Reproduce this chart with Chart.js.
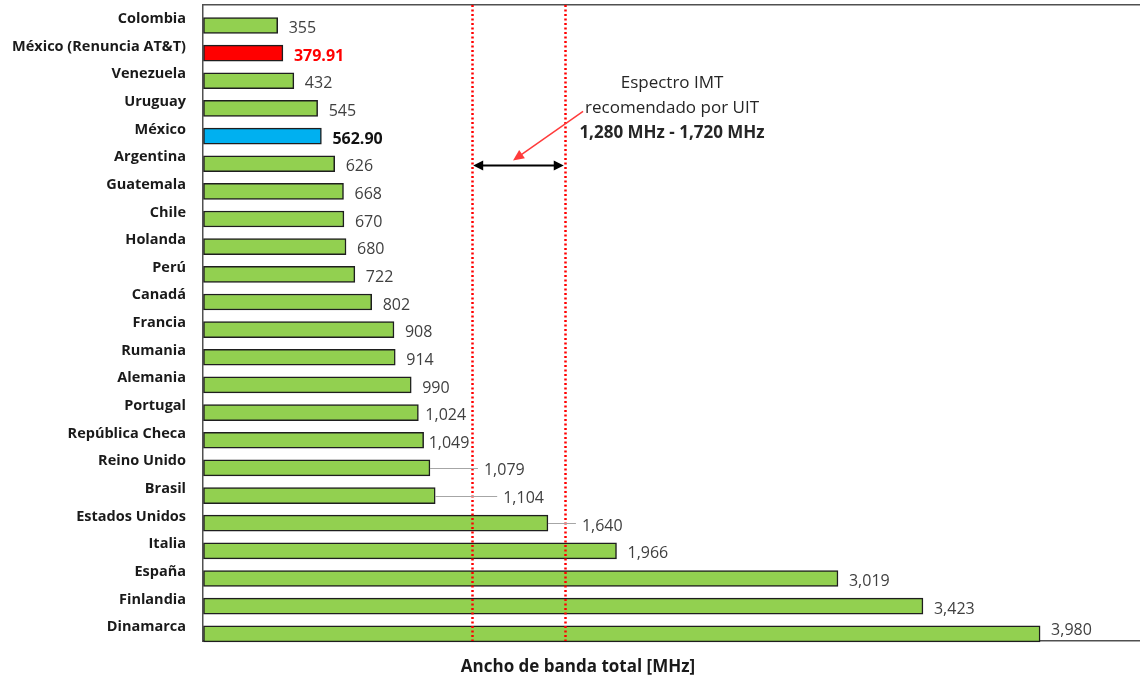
<!DOCTYPE html>
<html>
<head>
<meta charset="utf-8">
<script src="https://cdn.jsdelivr.net/npm/chart.js@4.4.1/dist/chart.umd.min.js"></script>
<style>
  html, body { margin: 0; padding: 0; background: #fff; }
</style>
</head>
<body>
<canvas id="chart" width="1140" height="679"></canvas>
<script>
// datos
const countries = ["Colombia", "México (Renuncia AT&T)", "Venezuela", "Uruguay", "México", "Argentina",
  "Guatemala", "Chile", "Holanda", "Perú", "Canadá", "Francia", "Rumania", "Alemania", "Portugal",
  "República Checa", "Reino Unido", "Brasil", "Estados Unidos", "Italia", "España", "Finlandia", "Dinamarca"];
const bandwidth = [355, 379.91, 432, 545, 562.90, 626, 668, 670, 680, 722, 802, 908, 914, 990, 1024,
  1049, 1079, 1104, 1640, 1966, 3019, 3423, 3980];
const imtRange = [1280, 1720];
const noteLines = ["Espectro IMT", "recomendado por UIT", "1,280 MHz - 1,720 MHz"];
const xTitle = "Ancho de banda total [MHz]";

// estilos
const FONT = "'Open Sans', 'Noto Sans', sans-serif";
const GREEN = "#92D050";
const barColor = { "México (Renuncia AT&T)": "#FF0000", "México": "#00B0F0" };
const valueStyle = {
  "México (Renuncia AT&T)": { color: "#FF0000", bold: true },
  "México": { color: "#111111", bold: true }
};
const labelGap = { "Portugal": 7, "República Checa": 5, "Reino Unido": 54, "Brasil": 68, "Estados Unidos": 34 };
const leaders = ["Reino Unido", "Brasil", "Estados Unidos"];
const labelDy = { "Dinamarca": -3 };

const fmt = (v) => (v % 1 ? v.toFixed(2) : v.toLocaleString("en-US"));

function arrowHead(ctx, x1, y1, x2, y2, len, wid) {
  const ang = Math.atan2(y2 - y1, x2 - x1);
  ctx.beginPath();
  ctx.moveTo(x2, y2);
  ctx.lineTo(x2 - len * Math.cos(ang) + wid * Math.sin(ang), y2 - len * Math.sin(ang) - wid * Math.cos(ang));
  ctx.lineTo(x2 - len * Math.cos(ang) - wid * Math.sin(ang), y2 - len * Math.sin(ang) + wid * Math.cos(ang));
  ctx.closePath();
  ctx.fill();
}

const annotations = {
  id: "annotations",
  afterDatasetsDraw(chart) {
    const { ctx, chartArea: a, scales: { x, yb } } = chart;
    ctx.save();

    // líneas rojas punteadas
    ctx.strokeStyle = "#FF0000";
    ctx.lineWidth = 2.5;
    ctx.setLineDash([2, 2.5]);
    imtRange.forEach(v => {
      const px = Math.round(x.getPixelForValue(v)) + 0.5;
      ctx.beginPath();
      ctx.moveTo(px, a.top);
      ctx.lineTo(px, a.bottom);
      ctx.stroke();
    });
    ctx.setLineDash([]);

    // flecha doble negra
    const x1 = x.getPixelForValue(imtRange[0]) + 1, x2 = x.getPixelForValue(imtRange[1]) - 1;
    const ya = yb.getPixelForValue(5.06);
    ctx.strokeStyle = "#000"; ctx.fillStyle = "#000"; ctx.lineWidth = 2;
    ctx.beginPath(); ctx.moveTo(x1 + 6, ya); ctx.lineTo(x2 - 6, ya); ctx.stroke();
    arrowHead(ctx, x2, ya, x1, ya, 10, 5);
    arrowHead(ctx, x1, ya, x2, ya, 10, 5);

    // flecha roja
    const tx = x.getPixelForValue(1807), ty = yb.getPixelForValue(3.11);
    const hx = x.getPixelForValue(1474), hy = yb.getPixelForValue(4.88);
    ctx.strokeStyle = "#FF3B3B"; ctx.fillStyle = "#FF3B3B"; ctx.lineWidth = 1.5;
    const ang = Math.atan2(hy - ty, hx - tx);
    ctx.beginPath(); ctx.moveTo(tx, ty); ctx.lineTo(hx - 8 * Math.cos(ang), hy - 8 * Math.sin(ang)); ctx.stroke();
    arrowHead(ctx, tx, ty, hx, hy, 11, 5);

    // texto de la nota
    const nx = x.getPixelForValue(2230);
    const ny = yb.getPixelForValue(2.1);
    ctx.textAlign = "center"; ctx.textBaseline = "middle"; ctx.fillStyle = "#262626";
    noteLines.forEach((t, i) => {
      ctx.font = (i === 2 ? "bold " : "") + "17px " + FONT;
      ctx.fillText(t, nx, ny + i * 25);
    });

    // etiquetas de valores
    const meta = chart.getDatasetMeta(0);
    ctx.textAlign = "left";
    meta.data.forEach((bar, i) => {
      const name = countries[i];
      const gap = labelGap[name] ?? 11;
      const lx = bar.x + gap;
      const ly = bar.y + (labelDy[name] ?? 3);
      if (leaders.includes(name)) {
        ctx.strokeStyle = "#A6A6A6"; ctx.lineWidth = 1;
        ctx.beginPath(); ctx.moveTo(bar.x, Math.round(bar.y) + 0.5); ctx.lineTo(lx - 6, Math.round(bar.y) + 0.5); ctx.stroke();
      }
      const st = valueStyle[name] || { color: "#404040", bold: false };
      ctx.fillStyle = st.color;
      ctx.font = (st.bold ? "bold " : "") + "16px " + FONT;
      ctx.fillText(fmt(bandwidth[i]), lx, ly);
    });

    // título del eje
    ctx.textAlign = "center";
    ctx.fillStyle = "#1a1a1a";
    ctx.font = "bold 17px " + FONT;
    ctx.fillText(xTitle, x.getPixelForValue(1783), chart.height - 12);

    ctx.restore();
  }
};

const AXIS = "#505050";

new Chart(document.getElementById("chart"), {
  type: "bar",
  data: {
    datasets: [{
      data: countries.map((c, i) => ({ x: bandwidth[i], y: i })),
      backgroundColor: countries.map(c => barColor[c] || GREEN),
      borderColor: "#1e1e1e",
      borderWidth: 1.5,
      borderSkipped: false,
      barThickness: 16,
      clip: false,
      xAxisID: "x",
      yAxisID: "yb"
    }]
  },
  options: {
    indexAxis: "y",
    responsive: false,
    animation: false,
    devicePixelRatio: 1,
    layout: { padding: 0 },
    plugins: { legend: { display: false }, tooltip: { enabled: false }, title: { display: false } },
    scales: {
      x: {
        type: "linear", min: 0, max: 4455, position: "bottom",
        ticks: { display: false },
        grid: { display: true, drawOnChartArea: false, drawTicks: false },
        border: { display: true, color: AXIS, width: 1.5 },
        afterFit: (s) => { s.height = 38; }
      },
      xt: {
        type: "linear", min: 0, max: 4455, position: "top",
        ticks: { display: false },
        grid: { display: true, drawOnChartArea: false, drawTicks: false },
        border: { display: true, color: AXIS, width: 1.5 },
        afterFit: (s) => { s.height = 5; }
      },
      y: {
        type: "category", labels: countries, offset: true, position: "left",
        grid: { display: true, drawOnChartArea: false, drawTicks: false },
        border: { display: true, color: AXIS, width: 1.5 },
        ticks: { autoSkip: false, padding: 17, color: "#1a1a1a", font: { family: FONT, size: 14.5, weight: "bold" } },
        afterFit: (s) => { s.width = 203; s.paddingTop = 0; s.paddingBottom = 0; }
      },
      yb: { type: "linear", display: false, reverse: true, offset: false, grace: 0, bounds: "data", min: -0.74, max: 22.26 }
    }
  },
  plugins: [annotations]
});
</script>
</body>
</html>
